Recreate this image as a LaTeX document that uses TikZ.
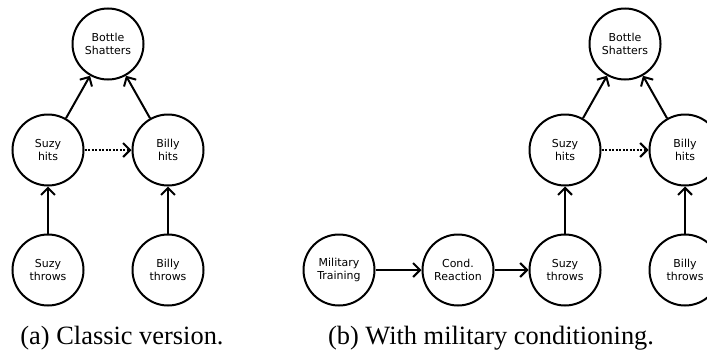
\documentclass[tikz,border=0pt]{standalone}
\usepackage{fontspec}
\setmainfont{Liberation Serif}
\newfontfamily\nodefont{DejaVu Sans}
\usetikzlibrary{arrows.meta,positioning}

\begin{document}
\begin{tikzpicture}[
	x=1bp, y=-1bp,
	event/.style   = {draw, circle, line width=2bp, minimum size=71bp, inner sep=0pt, align=center, font=\nodefont\fontsize{11}{13}\selectfont},
	cause/.style   = {->, line width=2bp},
	caption/.style = {font=\fontsize{26.5}{30}\selectfont},
	node distance=106bp and 60bp, on grid,
	>={Straight Barb[length=7bp,width=14bp]}]

	\useasboundingbox (0,0) rectangle (707,356);

	% (a) classic version, bottom row placed, the rest relatively
	\node[event] (st) at (48,270) {Suzy\\throws};
	\node[event] (bt) at (168,270) {Billy\\throws};
	\node[event, above=120bp of st] (sh) {Suzy\\hits};
	\node[event, above=120bp of bt] (bh) {Billy\\hits};
	\node[event, above right=of sh] (bs) {Bottle\\Shatters};
	\node[caption] (capa) at (122,338) {(a) Classic version.};

	% (b) with military conditioning
	\node[event] (mt) at (339,270) {Military\\Training};
	\node[event, right=119bp of mt] (cr) {Cond.\\Reaction};
	\node[event, right=107bp of cr] (st2) {Suzy\\throws};
	\node[event, right=120bp of st2] (bt2) {Billy\\throws};
	\node[event, above=120bp of st2] (sh2) {Suzy\\hits};
	\node[event, above=120bp of bt2] (bh2) {Billy\\hits};
	\node[event, above right=of sh2] (bs2) {Bottle\\Shatters};
	\node[caption] (capb) at (491,338) {(b) With military conditioning.};

	% edges of both graphs
	\foreach \g in {,2} {
		\draw[cause] (st\g) -- (sh\g);
		\draw[cause] (bt\g) -- (bh\g);
		\draw[cause] (sh\g) -- (bs\g);
		\draw[cause] (bh\g) -- (bs\g);
		\draw[cause, dash pattern=on 2bp off 1.5bp] (sh\g) -- (bh\g);
	}
	\draw[cause] (mt) -- (cr);
	\draw[cause] (cr) -- (st2);

\end{tikzpicture}
\end{document}
